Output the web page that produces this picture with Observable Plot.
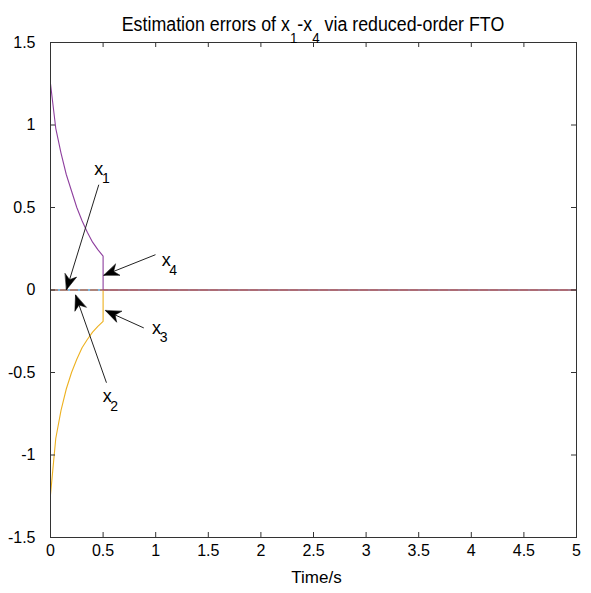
<!DOCTYPE html>
<html><head><meta charset="utf-8">
<script src="https://cdn.jsdelivr.net/npm/d3@7"></script>
<script src="https://cdn.jsdelivr.net/npm/@observablehq/plot@0.6"></script>
<style>
body{margin:0;background:#fff;overflow:hidden}
#title{height:36px;position:relative;font-family:'Liberation Sans',Arial,sans-serif;}
#title div{position:absolute;left:35px;width:556px;top:14px;text-align:center;font-size:20px;line-height:20px;color:#000;white-space:nowrap;transform:scaleX(0.89);transform-origin:50% 50%}
#title .sub{position:relative;top:12px;font-size:15px}
</style></head><body>
<div id="title"><div>Estimation errors of x<span class="sub">1</span>-x<span class="sub">4</span> via reduced-order FTO</div></div>
<div id="chart"></div>
<script>
// ---- data ----
const timeCurve = [0, 0.05, 0.1, 0.15, 0.2, 0.25, 0.3, 0.35, 0.4, 0.45, 0.5, 0.5, 5];
const x3Values  = [-1.24, -0.90, -0.73, -0.60, -0.50, -0.42, -0.35, -0.30, -0.255, -0.22, -0.19, 0, 0];
const x4Values  = [1.25, 0.98, 0.83, 0.70, 0.60, 0.50, 0.42, 0.35, 0.29, 0.245, 0.205, 0, 0];
const timeZero  = [0, 5];
const x1Values  = [0, 0];
const x2Values  = [0, 0];

const xTicks = [0, 0.5, 1, 1.5, 2, 2.5, 3, 3.5, 4, 4.5, 5];
const xTickLabels = ["0", "0.5", "1", "1.5", "2", "2.5", "3", "3.5", "4", "4.5", "5"];
const yTicks = [-1.5, -1, -0.5, 0, 0.5, 1, 1.5];
const yTickLabels = ["-1.5", "-1", "-0.5", "0", "0.5", "1", "1.5"];

// annotations: x_k labels with arrows
const annSub   = ["1", "4", "3", "2"];
const annTextT = [0.459, 1.10, 1.008, 0.539];
const annTextV = [0.734, 0.178, -0.230, -0.643];
const annTailT = [0.459, 0.998, 0.887, 0.532];
const annTailV = [0.638, 0.214, -0.230, -0.562];
const annTipT  = [0.152, 0.507, 0.523, 0.238];
const annTipV  = [0.002, 0.089, -0.125, -0.031];

// ---- layout ----
const W = 591, H = 557;
const mL = 50, mR = 15, mT = 6, mB = 56;
const innerW = W - mL - mR, innerH = H - mT - mB;
const kx = innerW / 5, ky = innerH / 3;

const series = (ts, vs, name) => ts.map((t, i) => ({t, v: vs[i], name}));
const s1 = series(timeZero, x1Values, "x1");
const s2 = series(timeZero, x2Values, "x2");
const s3 = series(timeCurve, x3Values, "x3");
const s4 = series(timeCurve, x4Values, "x4");

const ann = annSub.map((s, i) => ({
  sub: s, tx: annTextT[i], tv: annTextV[i],
  t1: annTailT[i], v1: annTailV[i], t2: annTipT[i], v2: annTipV[i],
  rot: Math.atan2((annTipT[i] - annTailT[i]) * kx, (annTipV[i] - annTailV[i]) * ky) * 180 / Math.PI
}));

const arrowHead = {
  draw(ctx, l) {
    ctx.moveTo(0, -l);
    ctx.lineTo(-6, 0);
    ctx.lineTo(0, -l * 0.3);
    ctx.lineTo(6, 0);
    ctx.closePath();
  }
};

const chart = Plot.plot({
  width: W, height: H,
  marginLeft: mL, marginRight: mR, marginTop: mT, marginBottom: mB,
  style: {fontFamily: "'Liberation Sans', Arial, sans-serif", fontSize: "16px", color: "#000", background: "#fff", overflow: "visible"},
  x: {domain: [0, 5], nice: false},
  y: {domain: [-1.5, 1.5], nice: false},
  marks: [
    Plot.line(s1, {x: "t", y: "v", stroke: "#0072BD", strokeWidth: 1.2}),
    Plot.line(s2, {x: "t", y: "v", stroke: "#D95319", strokeWidth: 1.2, strokeDasharray: "7,3"}),
    Plot.line(s3, {x: "t", y: "v", stroke: "#EDB120", strokeWidth: 1.1, curve: "linear"}),
    Plot.line(s4, {x: "t", y: "v", stroke: "#8E3F9E", strokeWidth: 1.1, curve: "linear"}),
    Plot.frame({stroke: "#333", strokeWidth: 1}),
    Plot.tickX(xTicks, {x: d => d, insetTop: innerH - 5, stroke: "#333"}),
    Plot.tickX(xTicks, {x: d => d, insetBottom: innerH - 5, stroke: "#333"}),
    Plot.tickY(yTicks, {y: d => d, insetRight: innerW - 5, stroke: "#333"}),
    Plot.tickY(yTicks, {y: d => d, insetLeft: innerW - 5, stroke: "#333"}),
    Plot.axisX(xTicks, {tickSize: 0, tickPadding: 7, label: null, tickFormat: d => xTickLabels[xTicks.indexOf(d)]}),
    Plot.axisY(yTicks, {tickSize: 0, tickPadding: 15, label: null, tickFormat: d => yTickLabels[yTicks.indexOf(d)]}),
    Plot.text(["Time/s"], {frameAnchor: "bottom", dy: 45, text: d => d, fontSize: 17, dx: 3}),
    Plot.link(ann, {x1: "t1", y1: "v1", x2: "t2", y2: "v2", stroke: "#222", strokeWidth: 1}),
    Plot.vector(ann, {x: "t2", y: "v2", rotate: "rot", length: 15, anchor: "end", shape: arrowHead, fill: "#000", stroke: "#000", strokeWidth: 0.5}),
    Plot.text(ann, {x: "tx", y: "tv", text: () => "x", fontSize: 18}),
    Plot.text(ann, {x: "tx", y: "tv", text: "sub", fontSize: 14, dx: 7, dy: 10})
  ]
});
document.getElementById("chart").appendChild(chart);
</script>
</body></html>
